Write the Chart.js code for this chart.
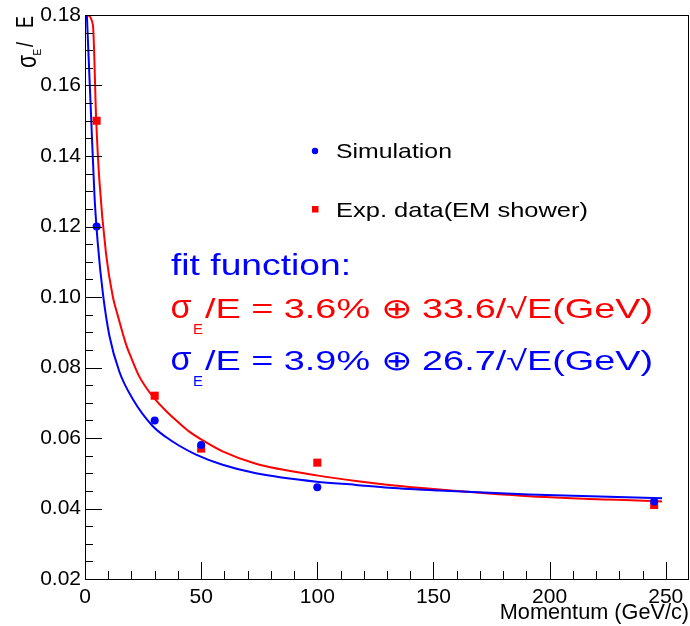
<!DOCTYPE html>
<html><head><meta charset="utf-8">
<script src="https://cdn.jsdelivr.net/npm/chart.js@4"></script>
<style>html,body{margin:0;padding:0;background:#fff;} #c{display:block;}</style>
</head><body>
<canvas id="c" width="690" height="626" style="width:690px;height:626px"></canvas>
<script>
// ---- data ----
const simMomentum = [5, 30, 50, 100, 245];
const simValues   = [0.120, 0.065, 0.058, 0.046, 0.042];
const expMomentum = [5, 30, 50, 100, 245];
const expValues   = [0.150, 0.072, 0.057, 0.053, 0.041];

// fitted curves
const fitExpMomentum = [0.8, 3.4, 4.8, 6.2, 9.1, 12, 14, 17.7, 20, 23.4, 26, 29.4, 35, 40.6, 44.9, 52, 59.2, 73.6, 99.7, 116.6, 130.9, 152.4, 191.1, 248.4];
const fitExpValues   = [0.180, 0.1772, 0.1505, 0.1330, 0.1120, 0.1000, 0.0950, 0.0865, 0.0826, 0.0774, 0.0746, 0.0716, 0.0676, 0.0642, 0.0618, 0.0588, 0.0562, 0.0527, 0.0494, 0.0478, 0.0467, 0.0454, 0.0435, 0.0420];
const fitSimMomentum = [0.8, 2.7, 4.1, 5.5, 7.7, 10.5, 14.8, 20.6, 29.1, 35, 40.6, 47.8, 59.2, 73.6, 99.7, 116.6, 130.9, 152.4, 191.1, 248.4];
const fitSimValues   = [0.180, 0.150, 0.1285, 0.1152, 0.1010, 0.0890, 0.0788, 0.0710, 0.0634, 0.0602, 0.0578, 0.0553, 0.0524, 0.0500, 0.0476, 0.0467, 0.0459, 0.0451, 0.0440, 0.0429];

const xTickValues = [0, 50, 100, 150, 200, 250];
const yTickValues = [0.02, 0.04, 0.06, 0.08, 0.10, 0.12, 0.14, 0.16, 0.18];
const yTickLabels = ['0.02', '0.04', '0.06', '0.08', '0.10', '0.12', '0.14', '0.16', '0.18'];

const seriesLabels = ['Simulation', 'Exp. data(EM shower)'];
const fitTitle = 'fit function:';
const fitExpText = '/E = 3.6% \u2295 33.6/\u221AE(GeV)';
const fitSimText = '/E = 3.9% \u2295 26.7/\u221AE(GeV)';
const xTitle = 'Momentum (GeV/c)';

const BLUE = '#0000ff', RED = '#ff0000';
const FONT = '"Liberation Sans", Arial, Helvetica, sans-serif';

const pts = (xs, ys) => xs.map((x, i) => ({x, y: ys[i]}));

function stretchText(ctx, text, x, yBase, size, color, targetW) {
  ctx.font = size + 'px ' + FONT;
  ctx.fillStyle = color; ctx.textAlign = 'left'; ctx.textBaseline = 'alphabetic';
  const w = ctx.measureText(text).width;
  const sx = targetW ? targetW / w : 1;
  ctx.save(); ctx.translate(x, yBase); ctx.scale(sx, 1); ctx.fillText(text, 0, 0); ctx.restore();
}
function rotText(ctx, text, size, xBase, yStart, vscale) {
  ctx.save();
  ctx.translate(xBase, yStart); ctx.rotate(-Math.PI / 2); ctx.scale(1, vscale);
  ctx.font = size + 'px ' + FONT; ctx.fillStyle = '#000';
  ctx.textAlign = 'left'; ctx.textBaseline = 'alphabetic';
  ctx.fillText(text, 0, 0);
  ctx.restore();
}

const rootDecor = {
  id: 'rootDecor',
  afterDatasetsDraw(chart) {
    const {ctx, chartArea: a, scales: {x, y}} = chart;
    ctx.save();
    ctx.strokeStyle = '#000'; ctx.lineWidth = 1;
    ctx.strokeRect(a.left + 0.5, a.top + 0.5, a.right - a.left - 1, a.bottom - a.top);
    ctx.beginPath();
    for (let i = 0; i < yTickValues.length; i++) {
      const v = yTickValues[i];
      const py = Math.round(y.getPixelForValue(v)) + 0.5;
      ctx.moveTo(a.left, py); ctx.lineTo(a.left + 17, py);
      if (i < yTickValues.length - 1) {
        const step = (yTickValues[i + 1] - v) / 4;
        for (let k = 1; k < 4; k++) {
          const pm = Math.round(y.getPixelForValue(v + k * step)) + 0.5;
          ctx.moveTo(a.left, pm); ctx.lineTo(a.left + 8, pm);
        }
      }
    }
    for (let i = 0; i < xTickValues.length; i++) {
      const v = xTickValues[i];
      const px = Math.round(x.getPixelForValue(v)) + 0.5;
      ctx.moveTo(px, a.bottom); ctx.lineTo(px, a.bottom - 17);
      for (let k = 1; k < 5; k++) {
        const mv = v + k * 10;
        if (mv >= x.max) break;
        const pm = Math.round(x.getPixelForValue(mv)) + 0.5;
        ctx.moveTo(pm, a.bottom); ctx.lineTo(pm, a.bottom - 8);
      }
    }
    ctx.stroke();

    // y axis title  sigma_E / E
    rotText(ctx, '\u03C3', 21, 36, 68, 1.35);
    rotText(ctx, 'E', 10, 40.5, 55.5, 1.0);
    rotText(ctx, '/', 18, 33, 47, 1.3);
    rotText(ctx, 'E', 18, 32.5, 28, 1.3);

    // legend
    const dsSim = chart.data.datasets[0], dsExp = chart.data.datasets[1];
    ctx.fillStyle = dsSim.backgroundColor;
    ctx.beginPath(); ctx.arc(315, 151, 3.2, 0, Math.PI * 2); ctx.fill();
    stretchText(ctx, dsSim.label, 336, 158.3, 21, '#000', 116);
    ctx.fillStyle = dsExp.backgroundColor;
    ctx.fillRect(312, 206, 6.5, 6.5);
    stretchText(ctx, dsExp.label, 336, 217.3, 21, '#000', 252);

    // fit function text
    stretchText(ctx, fitTitle, 171, 275, 30, BLUE, 180);
    const lines = [[fitExpText, RED, 318], [fitSimText, BLUE, 370]];
    for (const [txt, col, base] of lines) {
      stretchText(ctx, '\u03C3', 170.5, base, 34, col, 21);
      stretchText(ctx, 'E', 193, base + 16, 15, col, 0);
      stretchText(ctx, txt, 205, base, 28, col, 448);
    }
    ctx.restore();
  }
};

new Chart(document.getElementById('c'), {
  type: 'scatter',
  data: {
    datasets: [
      { label: seriesLabels[0], data: pts(simMomentum, simValues), backgroundColor: BLUE, borderColor: BLUE,
        pointStyle: 'circle', pointRadius: 4, borderWidth: 0, order: 0 },
      { label: seriesLabels[1], data: pts(expMomentum, expValues), backgroundColor: RED, borderColor: RED,
        pointStyle: 'rect', pointRadius: 5.7, borderWidth: 0, order: 1 },
      { type: 'line', label: 'fit sim', data: pts(fitSimMomentum, fitSimValues), borderColor: BLUE,
        borderWidth: 2, pointRadius: 0, fill: false, cubicInterpolationMode: 'monotone', order: 2 },
      { type: 'line', label: 'fit exp', data: pts(fitExpMomentum, fitExpValues), borderColor: RED,
        borderWidth: 2, pointRadius: 0, fill: false, cubicInterpolationMode: 'monotone', order: 3 }
    ]
  },
  options: {
    responsive: false, animation: false, devicePixelRatio: 1,
    layout: { autoPadding: false, padding: { top: 15, right: 1, left: 0, bottom: 0 } },
    plugins: { legend: { display: false }, tooltip: { enabled: false } },
    scales: {
      x: {
        type: 'linear', min: 0, max: 260,
        afterBuildTicks: s => { s.ticks = xTickValues.map(v => ({value: v})); },
        afterFit: s => { s.height = 47; s.paddingLeft = 0; s.paddingRight = 0; },
        grid: { display: false, drawTicks: false },
        border: { display: false },
        ticks: { color: '#000', font: { family: FONT, size: 21 }, padding: 6, autoSkip: false, maxRotation: 0,
                 callback: v => String(v) },
        title: { display: true, text: xTitle, align: 'end', color: '#000',
                 font: { family: FONT, size: 21.7 }, padding: { top: 0, bottom: 0 } }
      },
      y: {
        type: 'linear', min: 0.02, max: 0.18,
        afterBuildTicks: s => { s.ticks = yTickValues.map(v => ({value: v})); },
        afterFit: s => { s.width = 85; s.paddingTop = 0; s.paddingBottom = 0; },
        grid: { display: false, drawTicks: false },
        border: { display: false },
        ticks: { color: '#000', font: { family: FONT, size: 21 }, padding: 4, autoSkip: false,
                 callback: (v, i) => yTickLabels[i] }
      }
    }
  },
  plugins: [rootDecor]
});
</script>
</body></html>
